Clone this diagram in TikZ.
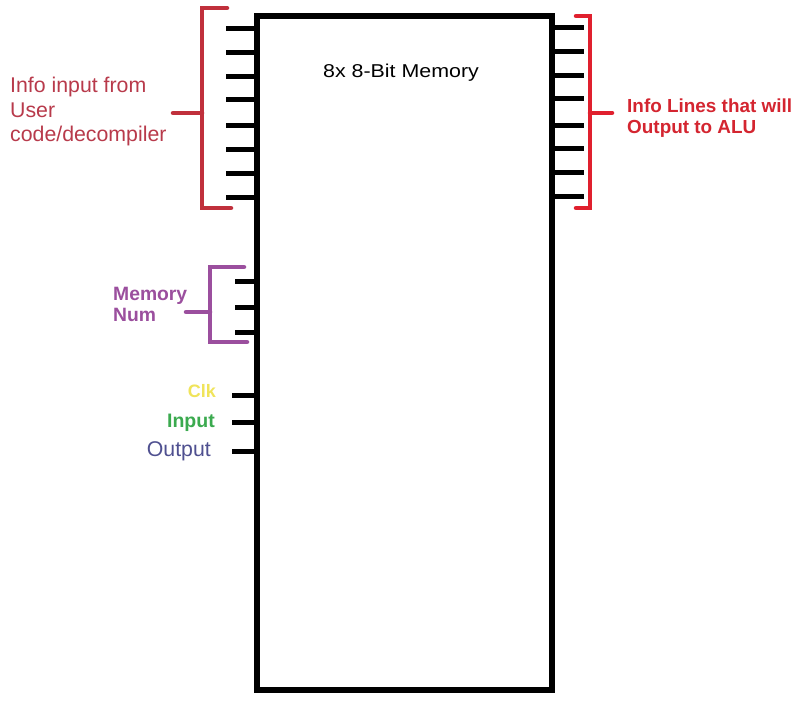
\documentclass[tikz,border=0pt]{standalone}
\usepackage{fontspec}
\setmainfont{Liberation Sans}
\definecolor{redL}{HTML}{C0303C}
\definecolor{redLtext}{HTML}{B83A4B}
\definecolor{redR}{HTML}{E0202E}
\definecolor{redRtext}{HTML}{D42530}
\definecolor{purp}{HTML}{9B4F9E}
\definecolor{clkyel}{HTML}{F0E45A}
\definecolor{ingreen}{HTML}{3BAA4F}
\definecolor{outblue}{HTML}{4F5090}
\begin{document}
\begin{tikzpicture}[x=1pt,y=-1pt,
  pinline/.style={line width=5pt},
  boxline/.style={line width=5.5pt},
  brack/.style={line width=4.5pt, line cap=round},
  lbl/.style={inner sep=0pt, align=left}]
\useasboundingbox (0,0) rectangle (797,703);
\fill[white] (0,0) rectangle (797,703);
% memory box
\draw[boxline] (257,16) rectangle (552,690);
\coordinate (boxW) at (257,0);
\coordinate (boxE) at (552,0);
\node[lbl, anchor=base] (title) at (401,78) {\fontsize{18.6}{22}\selectfont\scalebox{1.15}[1]{8x 8-Bit Memory}};
% left data pins
\foreach \y [count=\i] in {29,53,77,100,126,150,174,198}{
  \coordinate (li\i) at (226,\y);
  \draw[pinline] (li\i) -- (boxW |- li\i);
}
% right data pins
\foreach \y [count=\i] in {28,52,76,99,126,149,173,197}{
  \coordinate (ro\i) at (584,\y);
  \draw[pinline] (boxE |- ro\i) -- (ro\i);
}
% memory num pins
\foreach \y [count=\i] in {281,307,332}{
  \coordinate (mn\i) at (235,\y);
  \draw[pinline] (mn\i) -- (boxW |- mn\i);
}
% control pins
\coordinate (pclk) at (232,395);
\coordinate (pin) at (232,422);
\coordinate (pout) at (232,451);
\foreach \p in {pclk,pin,pout}{\draw[pinline] (\p) -- (boxW |- \p);}
% left red bracket
\draw[brack, redL] (227,8) -- (202,8) -- (202,208) -- (231,208);
\draw[brack, redL] (173,113) -- (202,113);
\node[lbl, anchor=base west, text=redLtext] (ltxt) at (10,93) {\fontsize{21.3}{25}\selectfont Info input from};
\node[lbl, anchor=base west, text=redLtext] (ltxt2) at (10,118) {\fontsize{21.3}{25}\selectfont User};
\node[lbl, anchor=base west, text=redLtext] (ltxt3) at (10,142) {\fontsize{21.3}{25}\selectfont code/decompiler};
% right red bracket
\draw[brack, redR] (576,16) -- (590,16) -- (590,208) -- (576,208);
\draw[brack, redR] (590,113) -- (612,113);
\node[lbl, anchor=base west, text=redRtext] (rtxt) at (627,113) {\fontsize{18.9}{22}\selectfont\bfseries Info Lines that will};
\node[lbl, anchor=base west, text=redRtext] (rtxt2) at (627,134) {\fontsize{18.9}{22}\selectfont\bfseries Output to ALU};
% purple bracket
\draw[brack, purp] (244,267) -- (210,267) -- (210,342) -- (247,342);
\draw[brack, purp] (186,312) -- (210,312);
\node[lbl, anchor=base west, text=purp] (mtxt) at (113,300) {\fontsize{19.3}{22}\selectfont\bfseries Memory};
\node[lbl, anchor=base west, text=purp] (mtxt2) at (113,321) {\fontsize{19.3}{22}\selectfont\bfseries Num};
% control labels
\node[lbl, anchor=base east, text=clkyel] (clk) at (216,397) {\fontsize{18}{22}\selectfont\bfseries Clk};
\node[lbl, anchor=base east, text=ingreen] (inp) at (215,427) {\fontsize{19.5}{22}\selectfont\bfseries Input};
\node[lbl, anchor=base east, text=outblue] (outp) at (211,456) {\fontsize{21.3}{25}\selectfont Output};
\end{tikzpicture}
\end{document}
